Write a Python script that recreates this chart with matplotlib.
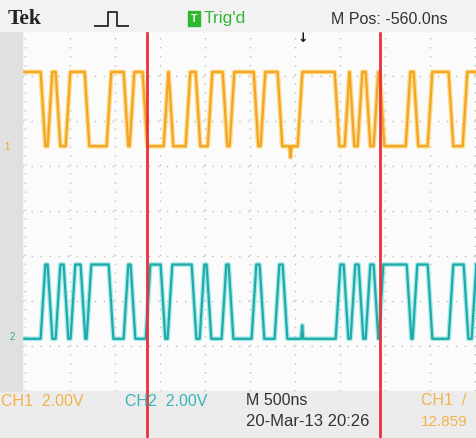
import numpy as np
import matplotlib.pyplot as plt
from matplotlib.patches import Rectangle
from matplotlib.lines import Line2D

# моменты фронтов, нс (развертка 500 нс/дел)
ch1_edges = [200, 278, 367, 478, 689, 933, 1122, 1189, 1333, 1567, 1622, 1811,
             1922, 2056, 2222, 2300, 2567, 2644, 2833, 3056, 3467, 3578, 3633,
             3722, 3811, 3900, 3967, 4256, 4344, 4500, 4733, 4889]
ch1_start = 1
ch1_glitch = (2950, -0.25)   # время, нс; выброс, дел
ch2_edges = [200, 278, 367, 456, 533, 644, 711, 956, 1122, 1200, 1367, 1533,
             1611, 1878, 1967, 2044, 2211, 2289, 2544, 2633, 2800, 2889, 3478,
             3567, 3644, 3733, 3811, 3900, 3956, 4267, 4333, 4500, 4733, 4900,
             4989]
ch2_start = 0
ch2_glitch = (3080, 0.3)

ch1_ground = 5.44   # положение нуля, деления
ch2_ground = 1.16
volts_per_div = 2.0
logic_high = 3.3
cursors = [1356, 3944]
t_min, t_max = -33, 5011

W, H = 476, 439


def wave(edges, start, glitch, rise=52):
    t = [t_min + 5]
    v = [start * logic_high / volts_per_div]
    lvl = start
    for e in edges:
        t += [e - rise / 2, e + rise / 2]
        v += [lvl * logic_high / volts_per_div, (1 - lvl) * logic_high / volts_per_div]
        lvl = 1 - lvl
    t.append(t_max)
    v.append(lvl * logic_high / volts_per_div)
    # короткий выброс
    gt, gv = glitch
    i = np.searchsorted(t, gt)
    base = v[i - 1]
    t[i:i] = [gt - 12, gt, gt + 12]
    v[i:i] = [base, base + gv, base]
    return np.array(t), np.array(v)


def fx(x):
    return x / W


def fy(y):
    return 1 - y / H


fig = plt.figure(figsize=(W / 100, H / 100), dpi=100, facecolor='#ececec')
fig.patches.append(Rectangle((0, fy(392)), fx(22), (392 - 32) / H,
                             transform=fig.transFigure, color='#e0e0e0', zorder=0))
fig.patches.append(Rectangle((0, fy(32)), 1, 32 / H,
                             transform=fig.transFigure, color='#f2f2f2', zorder=0))

ax = fig.add_axes([fx(22), fy(392), 1 - fx(22), 360 / H])
ax.set_facecolor('#fbfbfb')
ax.set_xlim(t_min, t_max)
ax.set_ylim(0, 8)
for s in ax.spines.values():
    s.set_visible(False)
ax.set_xticks(np.arange(0, 5001, 500))
ax.set_yticks(np.arange(0, 9, 1))
ax.tick_params(length=0, labelbottom=False, labelleft=False)
ax.grid(True, color='#bdbdbd', lw=1, ls=(0, (1, 5.5)))

t1, v1 = wave(ch1_edges, ch1_start, ch1_glitch)
t2, v2 = wave(ch2_edges, ch2_start, ch2_glitch)
ax.plot(t1, v1 + ch1_ground, color='#ffd36a', lw=3.4, alpha=0.8, solid_joinstyle='round')
ax.plot(t1, v1 + ch1_ground, color='#f2a526', lw=1.6, solid_joinstyle='round')
ax.plot(t2, v2 + ch2_ground, color='#8fe6e6', lw=3.4, alpha=0.8, solid_joinstyle='round')
ax.plot(t2, v2 + ch2_ground, color='#22aaa8', lw=1.6, solid_joinstyle='round')

# курсоры
ax.vlines(cursors[0], -47 / 45, (392 - 20) / 45, color='#e8323c', lw=2, clip_on=False, zorder=5)
ax.vlines(cursors[1], -47 / 45, (392 - 24) / 45, color='#e8323c', lw=2, clip_on=False, zorder=5)

sans = 'Liberation Sans'

fig.text(fx(8), fy(19), 'Tek', family='Liberation Serif', weight='bold', fontsize=15.5,
         va='center', color='#222222')
fig.lines.append(Line2D([fx(95), fx(108), fx(108), fx(117), fx(117), fx(128)],
                        [fy(27), fy(27), fy(13), fy(13), fy(27), fy(27)],
                        transform=fig.transFigure, color='#333333', lw=1.4))
fig.patches.append(Rectangle((fx(188), fy(27)), fx(12), 15 / H, transform=fig.transFigure,
                             color='#2db82d'))
fig.text(fx(194), fy(19.5), 'T', color='white', fontsize=7.5, weight='bold', ha='center',
         va='center', family=sans)
fig.text(fx(204), fy(19), "Trig'd", color='#35b535', fontsize=12.5, va='center', family=sans)
fig.text(fx(331), fy(19), 'M Pos: -560.0ns', color='#333333', fontsize=11.5, va='center',
         family=sans)
fig.text(fx(303), fy(38), '↓', color='#111111', fontsize=9, ha='center', va='center',
         weight='bold')

fig.text(fx(4), fy(147), '1', color='#f0a428', fontsize=7, va='center', family=sans)
fig.text(fx(10), fy(337), '2', color='#22aaa8', fontsize=7, va='center', family=sans)

fig.text(fx(1), fy(402), 'CH1  2.00V', color='#f3b24a', fontsize=11.5, va='center', family=sans)
fig.text(fx(125), fy(402), 'CH2  2.00V', color='#3ab3bb', fontsize=11.5, va='center', family=sans)
fig.text(fx(246), fy(401), 'M 500ns', color='#333333', fontsize=11.5, va='center', family=sans)
fig.text(fx(246), fy(422), '20-Mar-13 20:26', color='#333333', fontsize=12, va='center',
         family=sans)
fig.text(fx(421), fy(401), 'CH1  /', color='#f3b24a', fontsize=11.5, va='center', family=sans)
fig.text(fx(421), fy(422), '12.859', color='#f3b24a', fontsize=11, va='center', family=sans)

fig.savefig('out.png', dpi=100, facecolor=fig.get_facecolor())
